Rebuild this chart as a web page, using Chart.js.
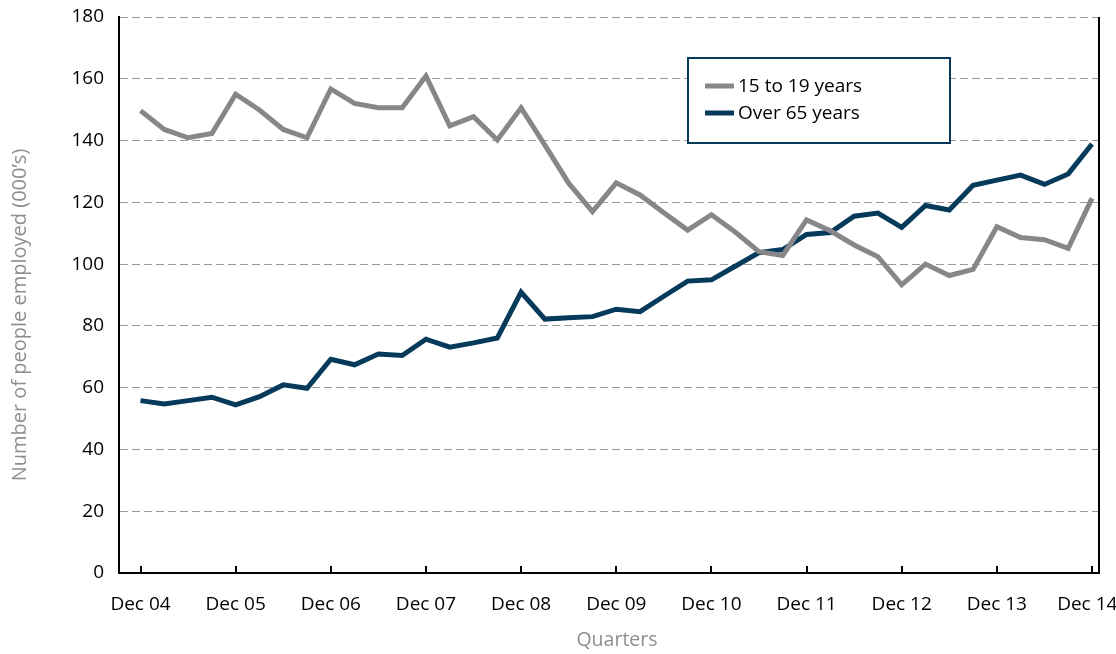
<!DOCTYPE html>
<html>
<head>
<meta charset="utf-8">
<script src="https://cdn.jsdelivr.net/npm/chart.js@4.4.1/dist/chart.umd.min.js"></script>
<style>
html,body{margin:0;padding:0;background:#ffffff;}
#wrap{width:1116px;height:654px;position:relative;}
</style>
</head>
<body>
<div id="wrap"><canvas id="c" width="1116" height="654"></canvas></div>
<script>
// ---- Data ----
const quarters = [
  'Dec 04','Mar 05','Jun 05','Sep 05','Dec 05','Mar 06','Jun 06','Sep 06',
  'Dec 06','Mar 07','Jun 07','Sep 07','Dec 07','Mar 08','Jun 08','Sep 08',
  'Dec 08','Mar 09','Jun 09','Sep 09','Dec 09','Mar 10','Jun 10','Sep 10',
  'Dec 10','Mar 11','Jun 11','Sep 11','Dec 11','Mar 12','Jun 12','Sep 12',
  'Dec 12','Mar 13','Jun 13','Sep 13','Dec 13','Mar 14','Jun 14','Sep 14',
  'Dec 14'
];
const tickLabels = ['Dec 04','Dec 05','Dec 06','Dec 07','Dec 08','Dec 09','Dec 10','Dec 11','Dec 12','Dec 13','Dec 14'];
const seriesNames = ['15 to 19 years', 'Over 65 years'];
const teens = [
  149.7, 143.6, 140.9, 142.3, 155.0, 149.9, 143.6, 140.9,
  156.7, 152.0, 150.6, 150.6, 160.9, 144.8, 147.7, 140.2,
  150.6, 138.5, 126.2, 117.0, 126.3, 122.4, 116.6, 111.0,
  116.0, 110.4, 104.0, 102.8, 114.3, 110.8, 106.2, 102.4,
  93.3, 100.0, 96.3, 98.3, 112.1, 108.6, 107.9, 105.1,
  121.3
];
const over65 = [
  55.8, 54.7, 55.8, 56.9, 54.4, 57.1, 60.9, 59.8,
  69.2, 67.4, 70.9, 70.4, 75.7, 73.1, 74.5, 76.1,
  90.9, 82.2, 82.6, 83.0, 85.4, 84.6, 89.6, 94.5,
  94.9, 99.3, 103.7, 104.7, 109.6, 110.2, 115.5, 116.5,
  111.9, 119.0, 117.5, 125.5, 127.2, 128.8, 125.8, 129.2,
  138.9
];
const yAxisTitle = 'Number of people employed (000\u2019s)';
const xAxisTitle = 'Quarters';

// ---- Styles ----
const FONT = "'Open Sans', 'Noto Sans', sans-serif";
const GREY = '#87878a';
const NAVY = '#063a5b';
const TITLE_GREY = '#8e8e8e';

const toPoints = arr => arr.map((v, i) => ({ x: i, y: v, q: quarters[i] }));
const ticksPerLabel = (quarters.length - 1) / (tickLabels.length - 1);

const framePlugin = {
  id: 'frame',
  beforeDatasetsDraw(chart) {
    const { ctx, chartArea, scales } = chart;
    ctx.save();
    ctx.strokeStyle = '#000';
    ctx.lineWidth = 2;
    // right frame line
    ctx.beginPath();
    ctx.moveTo(chartArea.right, chartArea.top);
    ctx.lineTo(chartArea.right, chartArea.bottom + 1);
    ctx.stroke();
    // inward tick marks at labelled quarters
    scales.x.ticks.forEach(t => {
      const px = Math.round(scales.x.getPixelForValue(t.value));
      ctx.beginPath();
      ctx.moveTo(px, chartArea.bottom);
      ctx.lineTo(px, chartArea.bottom - 7);
      ctx.stroke();
    });
    ctx.restore();
  },
  afterDraw(chart) {
    const { ctx } = chart;
    ctx.save();
    // axis titles
    ctx.fillStyle = TITLE_GREY;
    ctx.textAlign = 'center';
    ctx.textBaseline = 'middle';
    ctx.font = "19.5px " + FONT;
    ctx.fillText(xAxisTitle, 617, 640);
    ctx.save();
    ctx.translate(20, 315);
    ctx.rotate(-Math.PI / 2);
    ctx.font = "20px " + FONT;
    ctx.fillText(yAxisTitle, 0, 0);
    ctx.restore();
    // legend box
    const x0 = 688, y0 = 58, w = 262, h = 85;
    ctx.fillStyle = '#fff';
    ctx.fillRect(x0, y0, w, h);
    ctx.strokeStyle = NAVY;
    ctx.lineWidth = 2;
    ctx.strokeRect(x0, y0, w, h);
    ctx.font = "19px " + FONT;
    ctx.textBaseline = 'middle';
    ctx.textAlign = 'left';
    chart.data.datasets.forEach((ds, i) => {
      const y = 86 + i * 27;
      ctx.strokeStyle = ds.borderColor;
      ctx.lineWidth = 5;
      ctx.beginPath();
      ctx.moveTo(705, y);
      ctx.lineTo(734, y);
      ctx.stroke();
      ctx.fillStyle = '#000';
      ctx.fillText(ds.label, 738, y + 1);
    });
    ctx.restore();
  }
};

new Chart(document.getElementById('c'), {
  type: 'line',
  data: {
    datasets: [
      { label: seriesNames[0], data: toPoints(teens), borderColor: GREY, backgroundColor: GREY },
      { label: seriesNames[1], data: toPoints(over65), borderColor: NAVY, backgroundColor: NAVY }
    ]
  },
  options: {
    responsive: false,
    animation: false,
    devicePixelRatio: 1,
    layout: { padding: { top: 17, right: 17, left: 0, bottom: 0 } },
    elements: {
      line: { borderWidth: 5, tension: 0, borderJoinStyle: 'miter', borderCapStyle: 'butt', fill: false },
      point: { radius: 0, hoverRadius: 0 }
    },
    plugins: { legend: { display: false }, tooltip: { enabled: false } },
    scales: {
      x: {
        type: 'linear',
        min: -0.904,
        max: 40.294,
        afterBuildTicks: s => { s.ticks = tickLabels.map((_, k) => ({ value: k * ticksPerLabel })); },
        afterFit: s => { s.height = 81; s.paddingLeft = 0; s.paddingRight = 0; },
        ticks: {
          autoSkip: false, maxRotation: 0, minRotation: 0,
          color: '#000', padding: 20,
          font: { family: FONT, size: 19 },
          callback: (v, idx) => idx === tickLabels.length - 1 ? tickLabels[idx] + '\u2002' : tickLabels[idx]
        },
        grid: { display: false, drawTicks: false, tickLength: 0 },
        border: { display: true, color: '#000', width: 2 },
        title: { display: false, text: xAxisTitle }
      },
      y: {
        min: 0, max: 180,
        afterFit: s => { s.width = 119; s.paddingTop = 0; s.paddingBottom = 0; },
        ticks: { stepSize: 20, color: '#000', padding: 15, font: { family: FONT, size: 19 } },
        grid: { color: '#9a9a9a', lineWidth: 1, drawTicks: false, tickLength: 0 },
        border: { display: true, color: '#000', width: 2, dash: [8, 4] },
        title: { display: false, text: yAxisTitle }
      }
    }
  },
  plugins: [framePlugin]
});
</script>
</body>
</html>
